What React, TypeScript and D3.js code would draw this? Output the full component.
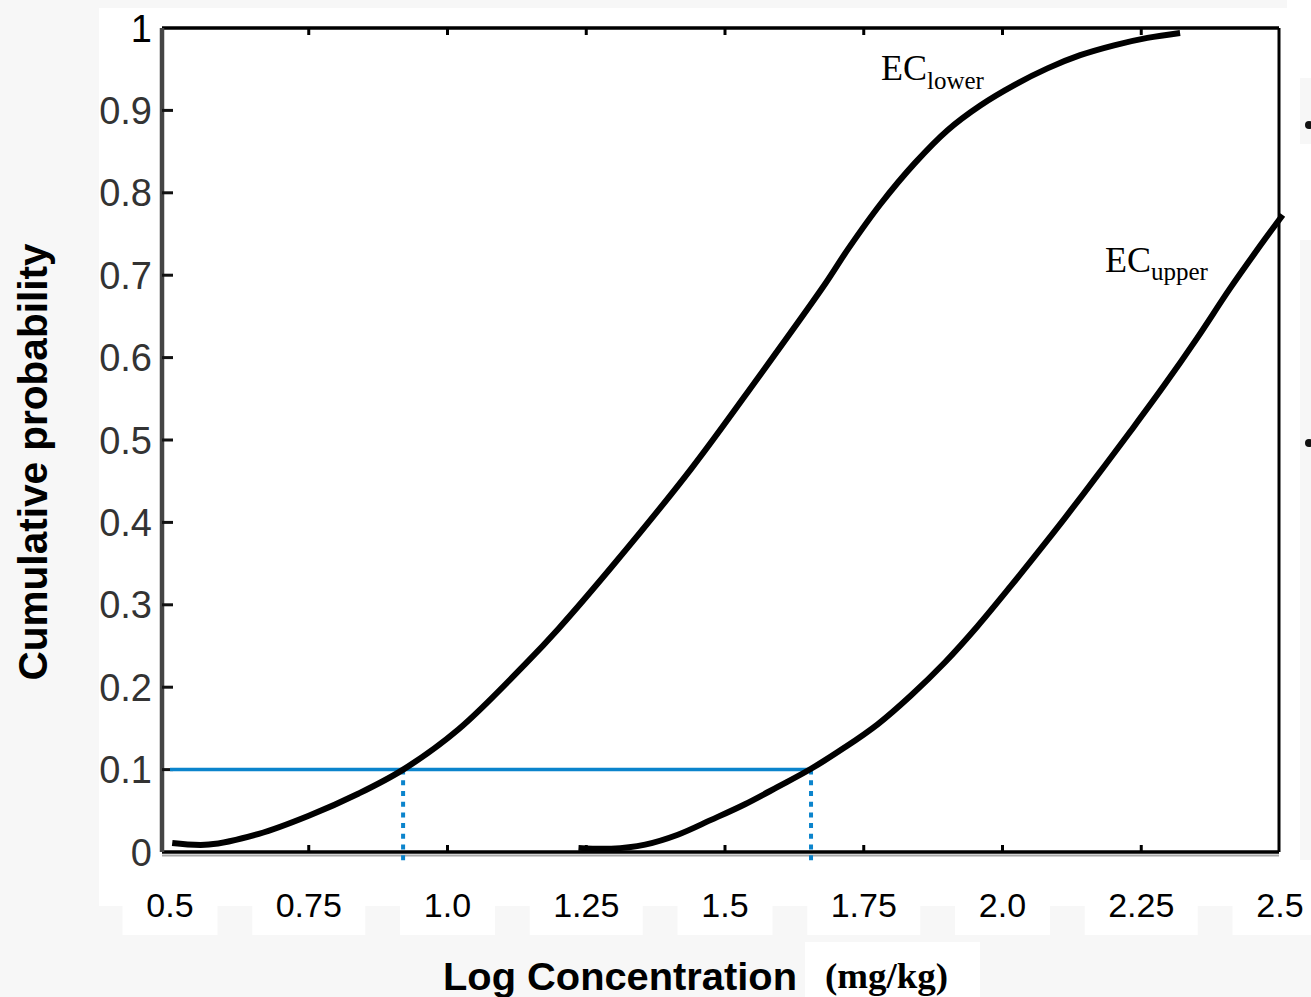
import React from "react";
import * as d3 from "d3";

// Cumulative probability curves (log concentration, probability)
const ecLowerX = [0.504, 0.57, 0.66, 0.75, 0.84, 0.92, 1.02, 1.14, 1.2, 1.302, 1.439, 1.559, 1.68, 1.721, 1.781, 1.842, 1.901, 1.96, 2.022, 2.081, 2.14, 2.201, 2.261, 2.32];
const ecLowerP = [0.011, 0.009, 0.022, 0.044, 0.071, 0.1, 0.149, 0.228, 0.271, 0.351, 0.465, 0.575, 0.689, 0.731, 0.787, 0.836, 0.876, 0.906, 0.931, 0.951, 0.967, 0.979, 0.988, 0.994];

const ecUpperX = [1.236, 1.295, 1.356, 1.415, 1.475, 1.536, 1.595, 1.655, 1.716, 1.775, 1.835, 1.896, 1.955, 2.014, 2.05, 2.112, 2.171, 2.23, 2.291, 2.351, 2.41, 2.471, 2.505];
const ecUpperP = [0.005, 0.004, 0.009, 0.021, 0.039, 0.058, 0.079, 0.101, 0.127, 0.155, 0.19, 0.23, 0.274, 0.322, 0.352, 0.405, 0.457, 0.51, 0.566, 0.624, 0.684, 0.742, 0.773];

// 10th percentile read-off
const threshold = 0.1;
const crossLower = 0.92;
const crossUpper = 1.655;

const xTickValues = [0.5, 0.75, 1.0, 1.25, 1.5, 1.75, 2.0, 2.25, 2.5];
const xTickLabels = ["0.5", "0.75", "1.0", "1.25", "1.5", "1.75", "2.0", "2.25", "2.5"];
const yTickValues = [0, 0.1, 0.2, 0.3, 0.4, 0.5, 0.6, 0.7, 0.8, 0.9, 1];
const yTickLabels = ["0", "0.1", "0.2", "0.3", "0.4", "0.5", "0.6", "0.7", "0.8", "0.9", "1"];

const W = 1311;
const H = 997;
const plot = { left: 162, right: 1279, top: 28, bottom: 852 };

const BLUE = "#0b84cc";
const BG = "#f7f7f7";

export default function App() {
  const x = d3.scaleLinear().domain([0.5, 2.5]).range([170, 1280]);
  const y = d3.scaleLinear().domain([0, 1]).range([plot.bottom, plot.top]);

  const line = d3
    .line<[number, number]>()
    .x((d) => x(d[0]))
    .y((d) => y(d[1]))
    .curve(d3.curveCatmullRom.alpha(0.5));

  const lowerPts = ecLowerX.map((v, i) => [v, ecLowerP[i]] as [number, number]);
  const upperPts = ecUpperX.map((v, i) => [v, ecUpperP[i]] as [number, number]);

  const dotBottom = y(-0.017);
  const frameTicks = [0.75, 1.0, 1.25, 1.5, 1.75, 2.0, 2.25];

  return (
    <svg
      width={W}
      height={H}
      style={{ position: "absolute", left: 0, top: 0, display: "block" }}
    >
      <rect x={0} y={0} width={W} height={H} fill={BG} />
      {/* white panel holding the plot */}
      <rect x={99} y={8} width={W - 99} height={898} fill="#ffffff" />
      <rect x={1287} y={0} width={W - 1287} height={8} fill="#ffffff" />
      {/* white boxes behind tick labels */}
      {xTickValues.map((v, i) => {
        const w = 95 + (xTickLabels[i].length - 3) * 18;
        return (
          <rect key={"b" + i} x={x(v) - w / 2} y={905} width={w} height={30} fill="#ffffff" />
        );
      })}
      <rect x={805} y={942} width={175} height={55} fill="#ffffff" />
      {/* side panels */}
      <rect x={1300} y={78} width={11} height={66} fill={BG} />
      <rect x={1300} y={240} width={11} height={620} fill={BG} />
      <circle cx={1309} cy={125} r={4} fill="#111" />
      <circle cx={1309} cy={443} r={4} fill="#111" />

      {/* frame */}
      <line x1={plot.left} x2={plot.right} y1={plot.top} y2={plot.top} stroke="#000" strokeWidth={3.5} />
      <line x1={plot.right} x2={plot.right} y1={plot.top} y2={plot.bottom} stroke="#000" strokeWidth={3} />
      <line x1={plot.left} x2={plot.right} y1={plot.bottom + 3.5} y2={plot.bottom + 3.5} stroke="#a8a8a8" strokeWidth={2} />
      <line x1={plot.left} x2={plot.right} y1={plot.bottom} y2={plot.bottom} stroke="#000" strokeWidth={3.5} />
      <line x1={plot.left} x2={plot.left} y1={plot.top} y2={plot.bottom} stroke="#454545" strokeWidth={4.5} />

      {/* inward ticks */}
      {frameTicks.map((v, i) => (
        <g key={"ft" + i}>
          <line x1={x(v)} x2={x(v)} y1={plot.top} y2={plot.top + 7} stroke="#000" strokeWidth={3} />
          <line x1={x(v)} x2={x(v)} y1={plot.bottom} y2={plot.bottom - 7} stroke="#000" strokeWidth={3} />
        </g>
      ))}
      {yTickValues.slice(1, -1).map((v, i) => (
        <line key={"yt" + i} x1={plot.left} x2={plot.left + 11} y1={y(v)} y2={y(v)} stroke="#111" strokeWidth={3} />
      ))}

      {/* y tick labels */}
      {yTickValues.map((v, i) => (
        <text
          key={"yl" + i}
          x={152}
          y={y(v)}
          dy="0.36em"
          textAnchor="end"
          fontFamily="Liberation Sans, Arial, sans-serif"
          fontSize={38}
          fill={v === 1 ? "#000" : "#333"}
        >
          {yTickLabels[i]}
        </text>
      ))}

      {/* x tick labels */}
      {xTickValues.map((v, i) => (
        <text
          key={"xl" + i}
          x={x(v)}
          y={917}
          textAnchor="middle"
          fontFamily="Liberation Sans, Arial, sans-serif"
          fontSize={34}
          fill="#000"
        >
          {xTickLabels[i]}
        </text>
      ))}

      {/* axis titles */}
      <text
        transform="translate(47,462) rotate(-90)"
        textAnchor="middle"
        fontFamily="Liberation Sans, Arial, sans-serif"
        fontWeight="bold"
        fontSize={40}
        textLength={437}
        lengthAdjust="spacingAndGlyphs"
        fill="#000"
      >
        Cumulative probability
      </text>
      <text
        x={443}
        y={990}
        fontFamily="Liberation Sans, Arial, sans-serif"
        fontWeight="bold"
        fontSize={38}
        textLength={354}
        lengthAdjust="spacingAndGlyphs"
        fill="#000"
      >
        Log Concentration
      </text>
      <text
        x={825}
        y={988}
        fontFamily="Liberation Serif, Times New Roman, serif"
        fontWeight="bold"
        fontSize={36}
        textLength={123}
        lengthAdjust="spacingAndGlyphs"
        fill="#000"
      >
        (mg/kg)
      </text>

      {/* 10th percentile guide lines */}
      <line x1={x(0.5)} x2={x(crossUpper)} y1={y(threshold)} y2={y(threshold)} stroke={BLUE} strokeWidth={3.5} />
      <line x1={x(crossLower)} x2={x(crossLower)} y1={y(threshold)} y2={dotBottom} stroke={BLUE} strokeWidth={4} strokeDasharray="5 5.7" />
      <line x1={x(crossUpper)} x2={x(crossUpper)} y1={y(threshold)} y2={dotBottom} stroke={BLUE} strokeWidth={4} strokeDasharray="5 5.7" />

      {/* curves */}
      <path d={line(lowerPts) ?? ""} fill="none" stroke="#000" strokeWidth={6} />
      <path d={line(upperPts) ?? ""} fill="none" stroke="#000" strokeWidth={6} />

      {/* curve labels */}
      <text x={881} y={80} fontFamily="Liberation Serif, Times New Roman, serif" fontSize={36} fill="#000">
        EC
        <tspan fontSize={25} dy={9}>lower</tspan>
      </text>
      <text x={1105} y={272} fontFamily="Liberation Serif, Times New Roman, serif" fontSize={36} fill="#000">
        EC
        <tspan fontSize={25} dy={8}>upper</tspan>
      </text>
    </svg>
  );
}
